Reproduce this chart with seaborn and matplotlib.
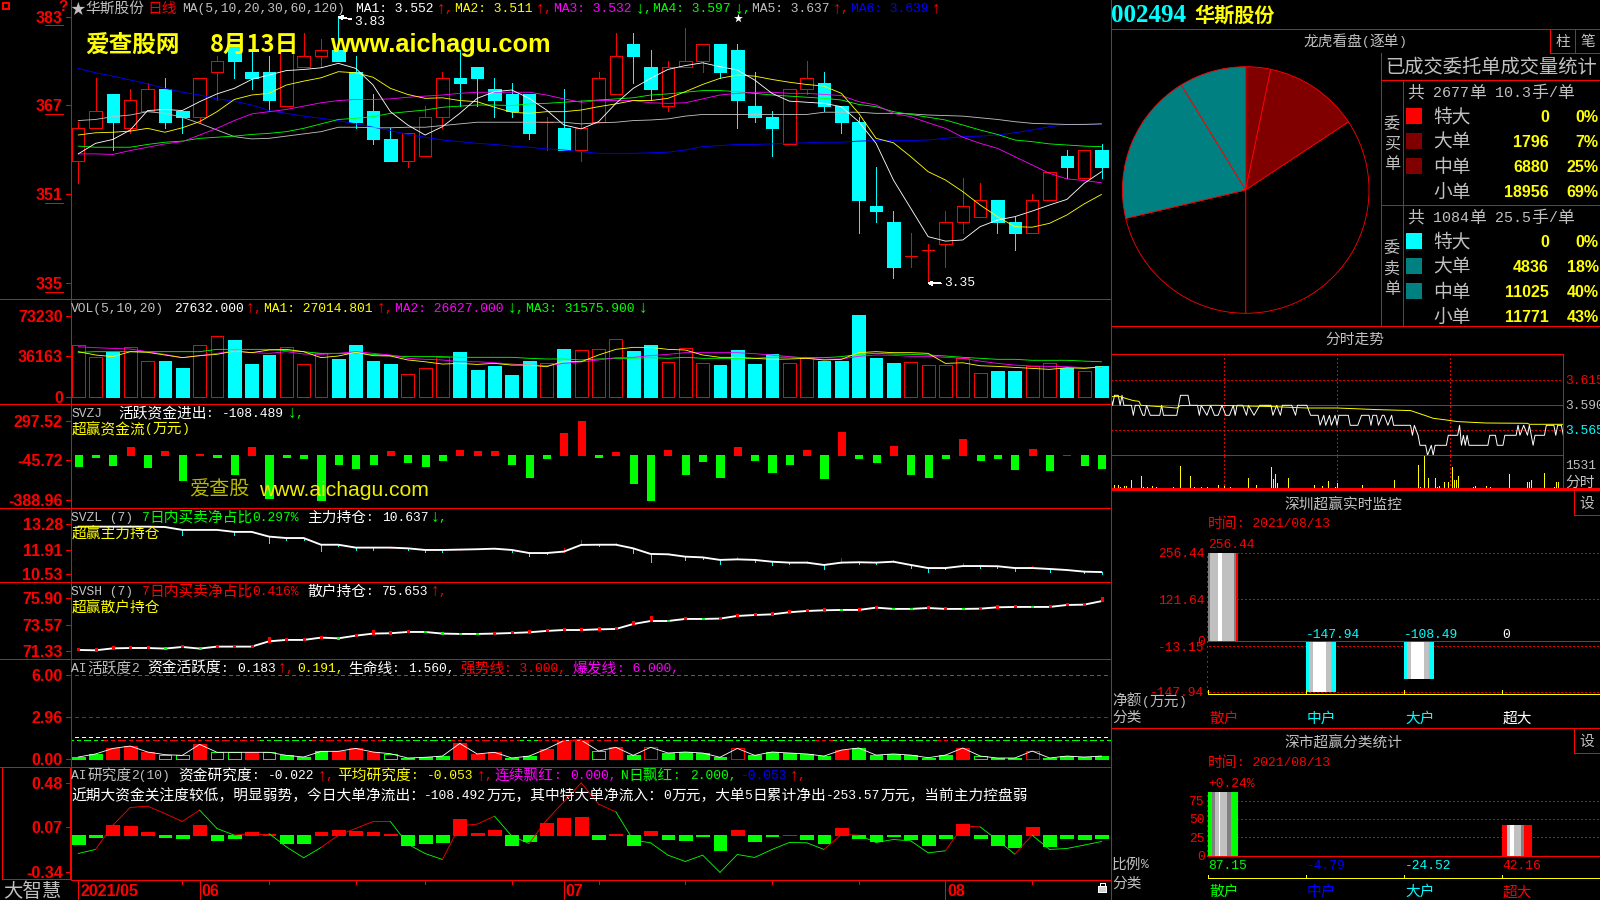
import numpy as np
import matplotlib
matplotlib.use("Agg")
import matplotlib.pyplot as plt
from matplotlib.patches import Rectangle
import seaborn as sns

# ---------- daily candles ----------
price_open = [357,363,369,363,366,370,366,365,373,378,373,373,367,374,376,377,373,366,361,357,358,365,372,374,370,369,369,364,
              363,359,364,369,378,374,367,374,375,378,377,367,365,360,370,371,367,364,349,346,340,341,342,346,347,350,346,344,350,358,354,359]
price_close = [363,366,364,368,370,364,365,372,375,375,372,368,377,376,377,375,364,361,357,362,365,372,371,372,368,366,362,364,
               359,363,372,376,376,370,374,375,378,373,368,365,363,370,372,367,364,350,348,338,340,341,346,349,350,346,344,350,355,356,359,356]
price_high = [364,372,369,370,371,372,366,372,376,378,377,376,377,380,379,383,376,369,363,362,367,373,377,374,372,371,369,365,
              370,368,373,380,380,377,375,381,378,378,378,373,366,370,375,373,367,365,356,348,344,342,348,354,353,350,347,351,355,359,359,360]
price_low = [353,363,359,362,366,363,362,364,368,372,370,366,367,374,374,375,363,360,357,356,358,363,367,367,365,365,361,359,
             359,357,364,369,371,368,366,374,373,372,363,364,358,360,369,366,362,344,346,336,338,335,338,344,347,344,341,344,350,354,354,354]

ma5 = [358.3,360.2,360.9,362.6,366.1,366.3,366.1,367.7,369.1,370.1,371.7,372.5,373.3,373.5,373.8,374.6,373.7,370.7,365.9,363.5,361.7,363.2,365.6,368.3,369.5,369.8,368.3,366.2,
       363.5,362.8,364.1,367.4,370.1,371.9,373.5,374.2,374.7,374.0,373.4,371.6,369.2,367.8,367.6,367.4,366.8,364.1,360.2,353.6,348.5,343.4,342.6,342.8,345.2,346.4,347.0,348.0,349.1,350.1,353.0,355.1]
ma10 = [361.7,362.1,362.2,362.4,362.9,362.2,363.0,364.1,365.9,368.1,368.9,369.2,370.7,371.4,372.0,373.1,372.9,372.1,370.1,369.0,368.3,368.4,367.9,367.7,366.7,365.8,365.6,365.9,
        365.9,366.2,366.8,367.3,367.9,367.9,368.3,369.5,370.8,371.9,372.5,372.3,371.7,371.2,370.8,370.5,369.2,365.6,361.1,360.3,357.8,355.1,353.6,351.5,349.1,347.0,345.2,345.1,345.8,347.3,349.3,351.0]
ma20 = [358.3,358.3,358.2,358.9,359.5,360.1,360.5,361.7,362.9,364.3,365.5,365.9,366.3,366.9,367.5,367.9,368.1,368.1,368.2,368.5,368.7,368.9,369.2,369.4,369.4,369.4,369.4,368.9,
        368.2,367.6,367.9,367.9,367.9,367.5,367.4,367.5,368.2,368.9,369.2,369.4,369.4,369.2,369.2,369.0,368.8,367.7,367.1,365.6,365.0,363.9,362.9,361.3,360.2,359.3,357.8,356.3,354.8,353.8,353.5,353.1]
ma30 = [359.7,359.5,359.5,359.5,360.0,360.4,360.6,361.1,361.3,361.5,361.8,362.0,362.3,362.9,363.7,364.5,364.7,365.0,365.6,365.9,366.2,366.7,366.9,367.1,367.1,367.0,367.3,367.4,
        367.6,367.8,368.0,368.2,368.4,368.9,369.1,369.4,369.7,369.7,369.5,369.2,368.9,368.7,368.5,368.3,368.0,367.2,366.8,365.9,365.4,364.9,364.4,363.5,362.6,361.8,360.8,360.5,360.1,359.9,359.7,359.6]
ma60 = [364.3,364.5,365.0,365.3,365.9,365.6,364.9,363.8,362.6,361.4,361.0,361.1,361.5,361.9,362.3,363.1,363.1,363.0,363.0,363.1,363.1,363.4,363.7,364.0,364.0,364.0,364.0,364.0,
        364.0,363.7,363.9,364.0,364.3,364.4,364.6,365.1,365.4,365.4,365.4,365.4,365.4,365.4,365.4,365.8,365.8,365.8,365.6,365.6,365.5,365.3,365.2,365.1,364.8,364.5,364.1,363.8,363.7,363.6,363.6,363.7]
ma120 = [373.7,372.9,372.3,371.6,370.9,370.1,369.4,368.9,368.2,367.8,367.1,366.1,365.6,365.1,364.7,364.3,363.7,363.1,362.5,361.8,361.3,360.8,360.5,360.2,360.0,359.7,359.5,359.2,
         359.0,358.7,358.4,358.4,358.4,358.5,358.6,359.0,359.6,359.8,360.0,360.0,360.1,360.2,360.3,360.4,360.4,360.6,360.7,360.7,360.7,360.8,361.1,361.4,361.5,361.7,362.1,362.6,363.2,363.6,363.7,363.7]

# ---------- volume ----------
volume = [46400,35600,40700,44600,31900,32200,25600,46400,54600,50900,29500,37700,44600,29500,39200,34100,46700,32200,29500,20200,25600,35600,40400,23800,27700,19600,32200,30100,
          43100,41900,42800,51800,41300,46700,31000,43700,30100,28600,42200,29500,38300,30100,34700,32200,32200,73800,35000,30400,31000,28300,28300,34700,21100,23200,23200,27400,30100,26200,22900,27632]
vol_ma5 = [40700,37700,36200,40700,40100,37700,35300,37100,38300,41300,39800,42200,42800,40700,35300,36800,40100,37100,36800,33200,31600,29500,30100,29200,30100,28600,28600,27100,
           32200,31600,37700,42800,44600,44600,42800,42200,37700,35600,35600,34700,33800,34100,34700,33200,33800,39800,40700,39800,39800,39200,30100,30700,28000,27400,26500,25600,24700,26200,25600,27014]
vol_ma10 = [45200,44300,43700,43100,40700,38300,35300,37100,39200,41300,39800,39200,40700,38600,38300,39200,40700,39200,37700,34700,33800,33200,31600,31600,30700,29500,28600,28000,
            30100,31600,33200,35300,35600,37100,38300,39800,39800,39800,39800,38900,37700,36200,34700,33800,34100,36500,37700,37400,36500,36500,35600,34700,32200,30100,28600,27700,27400,27100,26200,26627]
vol_ma20 = [40100,40700,40700,40700,40700,40700,40700,40700,42800,42800,42800,42800,41600,40700,39200,39200,39200,38300,37100,36200,36200,36200,35600,35600,35600,35600,34700,34100,
            34100,33200,34100,34700,34700,35300,34700,35600,34700,34700,34700,34700,35600,35900,35300,35300,36200,38300,39200,38600,38300,37700,36800,35600,34700,33800,33800,32900,32900,32900,32200,31575]

# ---------- capital flow ----------
flow = [-93,-15,-84,72,-101,38,-214,12,-15,-162,72,-368,-17,-23,-388,-75,-110,-75,38,-58,-93,-41,46,38,38,-75,-188,-23,
        194,297.5,-15,29,-240,-388,46,-162,-49,-188,72,-41,-145,-75,46,-197,203,-23,-58,81,-162,-188,-23,142,-41,-23,-119,55,-127,3,-84,-108.5]

# ---------- main force / retail holdings ----------
holding_main = [13.15,13.15,13.15,13.15,13.15,13.13,12.97,12.97,12.97,12.86,12.86,12.60,12.52,12.52,12.15,12.15,11.99,11.99,11.99,11.95,11.86,11.86,11.88,11.90,11.93,11.86,11.69,11.69,
                11.77,12.14,12.15,12.15,11.95,11.64,11.62,11.49,11.45,11.31,11.34,11.31,11.21,11.16,11.16,11.03,11.16,11.18,11.16,11.21,11.03,10.86,10.86,10.97,10.97,10.96,10.86,10.86,10.81,10.75,10.66,10.637]
main_down_idx = [2,6,9,11,12,13,14,15,16,17,19,20,21,25,26,27,30,32,33,35,36,37,39,40,41,43,45,46,48,49,50,52,53,54,56,58,59]
main_down_len = [.15,.28,.18,.37,.09,.09,.37,.09,.11,.11,.11,.11,.09,.09,.18,.055,.055,.26,.44,.18,.09,.22,.09,.18,.09,.22,.09,.09,.18,.22,.055,.09,.09,.15,.15,.09,.09]
main_up_idx = [3,7,10,18,22,24,28,29,31,34,38,42,44,47,51,55]
main_up_len = [.09,.055,.055,.055,.055,.055,.22,.26,.09,.09,.11,.09,.26,.09,.15,.09]

holding_retail = [71.42,71.39,71.56,71.59,71.59,71.54,71.68,71.54,71.71,71.71,71.71,72.17,72.29,72.29,72.49,72.43,72.66,72.84,72.87,72.98,72.98,72.84,72.81,72.81,72.84,72.89,72.95,73.07,
                  73.15,73.15,73.21,73.24,73.67,73.93,73.93,74.11,74.11,74.14,74.37,74.45,74.51,74.69,74.80,74.86,74.89,74.89,75.09,74.98,74.98,75.06,74.98,74.98,75.00,75.12,75.15,75.15,75.15,75.32,75.35,75.653]
retail_mark = "rrrrrgrgrrrrrrrgrrrrggggrrrr" + "rrrrrrgrgrrrrrrrgrrggrrgrrrgrrrr"
retail_big = {11: .4, 17: .3, 32: .3, 33: .42, 59: .35}

# ---------- AI activity ----------
activity = [.12,.34,.74,.91,.48,.29,.24,1.03,.46,.46,.46,.46,.24,.12,.53,.53,.74,.48,.36,.05,.10,.19,1.10,.34,.46,.05,.19,.70,
            1.30,1.34,.55,.82,.24,.82,.41,.48,.41,.10,.74,.24,.48,.41,.34,.19,.62,.77,.26,.34,.26,.07,.26,.77,.19,.05,.05,.55,.05,.19,.12,.19]
activity_style = "GGRRRggRggRgGGGRRRgGGGRRRGGR" + "RRgRGrGGGGrGGGGGRGGGGGGRgGGrGGGG"
life_line = 1.56
mid_line = 1.32
strong_line = 3.0
burst_line = 6.0
mid_colors = "gg" + "r"*9 + "ggg" + "rrrr" + "gggg" + "rrrr" + "g" + "r"*5 + "g"*11 + "r" + "g"*6 + "r" + "g"*9

# ---------- AI research ----------
research_bar = [-.079,-.018,.091,.082,.027,-.018,-.027,.091,-.046,-.027,.027,.006,-.073,-.073,.027,.046,.037,.027,.009,-.091,-.073,-.064,.146,.018,.046,-.091,-.055,.11,
                .155,.165,-.037,.009,-.091,.037,-.037,-.046,-.006,-.137,.046,-.055,-.006,.003,-.037,-.073,.064,-.027,-.055,-.006,-.037,-.091,-.027,.10,-.027,-.091,-.11,.073,-.10,-.027,-.037,-.027]
research_line = [-.168,-.131,.091,.253,.265,.198,.125,.229,.061,0,.015,.015,-.107,-.207,-.113,0,.061,.125,.125,-.082,-.168,-.223,.085,.101,.174,-.009,-.076,.137,
                 .305,.479,.284,.213,-.046,-.07,-.183,-.241,-.183,-.341,-.177,-.204,-.131,-.067,-.07,-.131,.006,0,-.067,-.04,-.052,-.162,-.143,.082,.076,-.046,-.174,0,-.131,-.122,-.091,-.058]
research_seg = "g"+"r"*6+"gg"+"rr"+"ggg"+"rrrr"+"ggg"+"rrr"+"gg"+"r"*5+"g"*12+"rr"+"g"*5+"rr"+"gg"+"r"+"g"*4

# ---------- order pie ----------
pie_values = [0,1796,6880,18956,11771,11025,4836,0]
pie_colors = ["#ff0000","#800000","#800000","#000000","#000000","#008080","#008080","#00ffff"]

# ---------- intraday ----------
intra_t = [0,1,2,4,5,6,7,8,11,12,13,15,17,18,19,21,26,27,28,35,36,37,41,42,46,47,48,51,53,55,57,59,61,63,65,66,67,70,72,73,76,79,85,86,88,90,91,96,98,99,104,106,110,111,113,114,116,117,119,120,121,126,127,131,133,137,138,139,141,142,144,145,147,149,150,159,160,161,163,164,167,168,170,171,172,178,179,184,185,186,187,188,189,190,200,201,204,205,208,209,215,216,217,219,221,222,224,225,230,231,235,236,237,239,240]
intra_p = [3.60,3.59,3.60,3.60,3.59,3.60,3.59,3.59,3.59,3.58,3.59,3.59,3.58,3.58,3.59,3.58,3.58,3.59,3.58,3.58,3.59,3.60,3.60,3.59,3.59,3.58,3.59,3.58,3.59,3.58,3.58,3.59,3.58,3.58,3.59,3.58,3.59,3.59,3.58,3.59,3.58,3.59,3.59,3.58,3.59,3.58,3.59,3.59,3.58,3.59,3.59,3.58,3.58,3.57,3.58,3.57,3.58,3.57,3.58,3.57,3.58,3.58,3.57,3.57,3.58,3.58,3.57,3.58,3.58,3.57,3.58,3.58,3.57,3.58,3.57,3.57,3.56,3.57,3.56,3.55,3.55,3.54,3.55,3.54,3.55,3.55,3.56,3.56,3.57,3.55,3.56,3.55,3.56,3.55,3.55,3.56,3.56,3.55,3.55,3.56,3.56,3.57,3.56,3.57,3.56,3.57,3.55,3.56,3.56,3.57,3.57,3.56,3.57,3.57,3.56]
avg_t = [0,5,9,12,15,16,26,35,37,56,86,104,120,141,159,166,171,178,184,199,221,222,240]
avg_p = [3.5987,3.5987,3.5963,3.5947,3.594,3.59,3.5887,3.5873,3.5897,3.59,3.5887,3.5873,3.5873,3.5857,3.5847,3.5803,3.577,3.5753,3.5737,3.5723,3.572,3.571,3.571]
tick_vol_t = [2,4,5,7,8,9,11,12,13,14,16,17,19,22,24,28,30,33,37,42,44,48,51,57,60,63,65,73,77,85,86,87,88,94,97,102,105,108,112,115,119,120,126,133,134,137,150,151,160,163,164,166,168,170,172,173,174,177,179,181,182,183,184,186,192,193,196,198,199,201,202,204,211,212,220,221,222,223,225,230,235,236,237,240]
tick_vol_v = [195,180,90,150,150,60,420,75,60,45,600,120,90,165,105,45,45,90,1050,600,90,90,90,195,150,90,45,510,195,1005,450,690,285,510,45,45,45,195,165,375,120,300,45,180,75,45,405,45,45,1095,120,1531,510,75,510,90,150,330,330,1005,420,420,600,45,90,150,75,75,150,90,45,75,690,45,45,330,330,420,45,735,120,330,330,1050]

# ---------- right bar panels ----------
categories = ["散户","中户","大户","超大"]
net_amount = [256.44,-147.94,-108.49,0]
ratio_values = [87.15,-4.79,-24.52,42.16]
ratio_labels = ["87.15","-4.79","-24.52","42.16"]

# ---------- table ----------
buy_rows = [("特大",0,"0%"),("大单",1796,"7%"),("中单",6880,"25%"),("小单",18956,"69%")]
sell_rows = [("特大",0,"0%"),("大单",4836,"18%"),("中单",11025,"40%"),("小单",11771,"43%")]

# =====================================================================
W, H = 1600, 900
RED, CYAN, GREEN, MAG, YEL, BLUE, GRAY, WHITE = "#ff0000","#00ffff","#00ff00","#ff00ff","#ffff00","#0000ff","#c0c0c0","#ffffff"
THIN = .5
SLIM = .62
sns.set_theme(style="dark", rc={"figure.facecolor":"black","axes.facecolor":"black","savefig.facecolor":"black",
                                "lines.antialiased":False,"patch.antialiased":False,"axes.grid":False})
plt.rcParams["font.family"] = ["Noto Sans CJK SC","DejaVu Sans"]
fig = plt.figure(figsize=(16,9), dpi=100)
n = len(price_open)
idx = np.arange(n)
X0, DX = 78.2, 17.345
LEFT, RIGHT = 70.7, 1110.7

def axes_px(x0,y0,x1,y1):
    ax = fig.add_axes([x0/W, 1-y1/H, (x1-x0)/W, (y1-y0)/H])
    ax.set_axis_off()
    return ax

def chart_axes(ptop,pbot,p1,v1,p2,v2):
    ax = axes_px(LEFT,ptop,RIGHT,pbot)
    k = (v2-v1)/(p2-p1)
    ylim = (v1+k*(pbot-p1), v1+k*(ptop-p1))
    return ax, ylim

def finish(ax, ylim):
    ax.set_xlim((LEFT-X0)/DX, (RIGHT-X0)/DX)
    ax.set_ylim(*ylim)
    ax.set_axis_off()

def line(ax,x,y,c,lw=SLIM):
    sns.lineplot(x=x,y=y,ax=ax,color=c,lw=lw,estimator=None,sort=False,legend=False,antialiased=True)

# ---- main candles
ax,yl = chart_axes(0,299.3,16.7,383,283.3,335)
o,c,h,l = map(np.array,(price_open,price_close,price_high,price_low))
up = c>=o
top = np.maximum(o,c); bot = np.minimum(o,c)
ax.vlines(idx[up],top[up],h[up],color=RED,lw=THIN,zorder=1)
ax.vlines(idx[up],l[up],bot[up],color=RED,lw=THIN,zorder=1)
ax.vlines(idx[~up],l[~up],h[~up],color=CYAN,lw=THIN,zorder=1)
ax.bar(idx[up],(top-bot)[up],bottom=bot[up],width=.72,facecolor="black",edgecolor=RED,lw=THIN,zorder=1)
ax.bar(idx[~up],(top-bot)[~up],bottom=bot[~up],width=.72,facecolor=CYAN,edgecolor=CYAN,lw=THIN,zorder=1)
for s,col in zip((ma120,ma60,ma30,ma20,ma10,ma5),(BLUE,GRAY,GREEN,MAG,YEL,WHITE)):
    line(ax,idx,s,col)
finish(ax,yl)

def styled_bars(ax,vals,width,faces,edges):
    sns.barplot(x=idx,y=vals,native_scale=True,width=width,color=RED,saturation=1,errorbar=None,ax=ax,legend=False)
    for p,f,e in zip(ax.patches,faces,edges):
        p.set_facecolor(f); p.set_edgecolor(e); p.set_linewidth(THIN)

# ---- volume
ax,yl = chart_axes(299.3,404,315.7,73230,396.7,0)
styled_bars(ax,volume,.74,["black" if u else CYAN for u in up],[RED if u else CYAN for u in up])
for s,col in zip((vol_ma20,vol_ma10,vol_ma5),(GREEN,MAG,YEL)):
    line(ax,idx,s,col)
finish(ax,yl)

# ---- flow
ax,yl = chart_axes(404,508,421,297.52,500,-388.96)
fc = [RED if v>0 else GREEN for v in flow]
styled_bars(ax,flow,.41,fc,fc)
finish(ax,yl)

# ---- SVZL
ax,yl = chart_axes(508,582.3,524.3,13.28,574,10.53)
hm = np.array(holding_main)
ax.vlines(main_down_idx,hm[main_down_idx]-np.array(main_down_len),hm[main_down_idx],color=CYAN,lw=THIN)
ax.vlines(main_up_idx,hm[main_up_idx],hm[main_up_idx]+np.array(main_up_len),color="#e00000",lw=THIN)
line(ax,idx,holding_main,WHITE,lw=1.35)
finish(ax,yl)

# ---- SVSH
ax,yl = chart_axes(582.3,659.3,598.3,75.90,651,71.33)
hr = np.array(holding_retail)
line(ax,idx,holding_retail,WHITE,lw=1.35)
for i in idx:
    sz = retail_big.get(int(i),.17 if retail_mark[i]=="r" else .1)
    ax.vlines(i,hr[i]-.03,hr[i]+sz,color=RED if retail_mark[i]=="r" else GREEN,lw=1.8,zorder=3)
finish(ax,yl)

# ---- AI activity
ax,yl = chart_axes(659.3,766.7,675.3,6.0,758.7,0)
faces = {"R":RED,"G":GREEN,"r":"black","g":"black"}
edges = {"R":RED,"G":GREEN,"r":RED,"g":GREEN}
styled_bars(ax,activity,.74,[faces[s] for s in activity_style],[edges[s] for s in activity_style])
line(ax,idx,activity,WHITE)
dash = (0,(5,5))
ax.hlines(burst_line,-1,60,color="#e000e0",lw=THIN,ls=dash)
ax.hlines(strong_line,-1,60,color="#e00000",lw=THIN,ls=dash)
ax.hlines(life_line,-1,60,color=WHITE,lw=THIN,ls=dash)
for i in idx:
    ax.hlines(mid_line,i-.5,i+.5,color=RED if mid_colors[i]=="r" else GREEN,lw=THIN,ls=dash)
finish(ax,yl)

# ---- AI research
ax,yl = chart_axes(766.7,880,782.7,.48,872.3,-.34)
fc = [RED if v>0 else GREEN for v in research_bar]
styled_bars(ax,research_bar,.74,fc,fc)
for i in range(n-1):
    ax.plot(idx[i:i+2],research_line[i:i+2],color=RED if research_seg[i]=="r" else GREEN,lw=SLIM,antialiased=True)
finish(ax,yl)

# ---- pie
R = 123.3; CX, CY = 1245.7, 190
ax = axes_px(CX-R,CY-R,CX+R,CY+R)
ax.pie(pie_values,colors=pie_colors,startangle=90,counterclock=False,radius=1,
       wedgeprops=dict(edgecolor=RED,linewidth=SLIM,clip_on=False,antialiased=True))
ax.set_xlim(-1,1); ax.set_ylim(-1,1); ax.set_axis_off()

# ---- intraday
PX0,PX1 = 1110.7,1563.3
DOT = (0,(2,4))
ax = axes_px(PX0,354.3,PX1,455.3)
ax.hlines(3.59,0,240,color=RED,lw=THIN)
ax.hlines([3.615,3.565],0,240,color="#e00000",lw=THIN,ls=DOT)
ax.vlines([60,120,180],3.54,3.641,color="#e00000",lw=THIN,ls=DOT)
line(ax,intra_t,intra_p,WHITE,lw=.7)
line(ax,avg_t,avg_p,YEL,lw=.7)
ax.set_xlim(0,240); ax.set_ylim(3.54,3.641); ax.set_axis_off()
ax = axes_px(PX0,455.3,PX1,489.3)
ax.vlines(tick_vol_t,0,tick_vol_v,color=YEL,lw=THIN)
ax.vlines([60,120,180],0,1531,color="#e00000",lw=THIN,ls=DOT,zorder=0)
ax.set_xlim(0,240); ax.set_ylim(0,1531); ax.set_axis_off()

# ---- right bars
def cat_axes(ptop,pbot,p1,v1,p2,v2):
    a = axes_px(1206.7,ptop,1600,pbot)
    k = (v2-v1)/(p2-p1)
    return a,(v1+k*(pbot-p1),v1+k*(ptop-p1))

def stripes(a,i,val,stops,cols):
    x0 = i-.15
    for s0,s1,col in zip(stops[:-1],stops[1:],cols):
        a.bar(x0+.3*s0,val,width=.3*(s1-s0),align="edge",color=col,lw=0,zorder=3)

def cat_finish(a,yl):
    a.set_xlim((1206.7-1223)/98,(1600-1223)/98)
    a.set_ylim(*yl); a.set_axis_off()

a,yl = cat_axes(540,700,552.7,256.44,641.3,0)
sns.barplot(x=categories,y=net_amount,order=categories,width=.3,color=GRAY,saturation=1,errorbar=None,ax=a,legend=False,linewidth=0)
a.hlines([256.44,121.64,-13.15,-147.94],-1,4,color="#e00000",lw=THIN,ls=DOT,zorder=1)
a.hlines(0,-1,4,color=RED,lw=THIN,zorder=4)
a.vlines(-.165,-147.94,256.44,color="#e00000",lw=.7,ls=DOT)
stripes(a,0,net_amount[0],[0,.07,.33,.46,.88,.94,1],["#808080",GRAY,WHITE,GRAY,"#808080",RED])
stops = [0,.1,.24,.67,.83,1]; cols = [CYAN,GRAY,WHITE,GRAY,CYAN]
stripes(a,1,net_amount[1],stops,cols)
stripes(a,2,net_amount[2],stops,cols)
cat_finish(a,yl)

a,yl = cat_axes(785,855.7,800.7,75,855.7,0)
sns.barplot(x=categories,y=ratio_values,order=categories,width=.3,color=GRAY,saturation=1,errorbar=None,ax=a,legend=False,linewidth=0)
a.hlines([75,50,25],-1,4,color="#e00000",lw=THIN,ls=DOT,zorder=1)
a.vlines(-.165,0,87.15,color="#e00000",lw=.7,ls=DOT)
stripes(a,0,ratio_values[0],[0,.12,.22,.37,.39,.62,.76,1],[GREEN,"#808080",GRAY,WHITE,GRAY,"#808080",GREEN])
stripes(a,3,ratio_values[3],[0,.17,.25,.41,.64,.73,1],[RED,GRAY,WHITE,GRAY,"#808080",RED])
cat_finish(a,yl)

# ---- overlay in pixel coordinates: rules and text
ov = fig.add_axes([0,0,1,1],zorder=10)
ov.set_xlim(0,W); ov.set_ylim(H,0); ov.set_axis_off(); ov.patch.set_alpha(0)

def hl(y,x0,x1,c=RED,lw=THIN): ov.plot([x0,x1],[y,y],color=c,lw=lw,solid_capstyle="butt")
def vl(x,y0,y1,c=RED,lw=THIN): ov.plot([x,x],[y0,y1],color=c,lw=lw,solid_capstyle="butt")

MONO = ["Liberation Mono","DejaVu Sans"]
CJK = ["Noto Sans CJK SC","DejaVu Sans"]
NUM = ["Liberation Sans","DejaVu Sans"]
EM_C, EM_A = 14.7, 7.83

def kind(ch):
    if ch in "↑↓": return 2
    return 1 if ord(ch)>127 else 0

def grid(x,y,s,color=GRAY,scale=1.0,ha="left",bold=False):
    runs = []
    for ch in s:
        if runs and kind(runs[-1][0])==kind(ch): runs[-1]+=ch
        else: runs.append(ch)
    adv = {0:EM_A,1:EM_C,2:EM_A}
    base = {0:4.4,1:5.2,2:5.6}
    size = {0:9.4,1:10.58,2:12.5}
    total = sum(len(r)*adv[kind(r[0])]*scale for r in runs)
    if ha=="center": x -= total/2
    if ha=="right": x -= total
    for r in runs:
        k = kind(r[0])
        tx = x-1.2 if k==2 else x
        ov.text(tx,y+base[k]*scale,r,color=color,fontfamily=CJK if k==1 else MONO,
                fontsize=size[k]*scale,va="baseline",ha="left",
                fontweight="bold" if bold else "normal")
        x += len(r)*adv[k]*scale

def num(x,y,s,color=RED,size=11.5,bold=False):
    ov.text(x,y,s,color=color,fontfamily=NUM,fontsize=size,ha="right",va="center_baseline",
            fontweight="bold" if bold else "normal")

for y in (299.3,404,508,582.3,659.3,766.7):
    hl(y,0,RIGHT)
hl(880,LEFT,RIGHT)
vl(LEFT,0,880); vl(RIGHT,0,900)
ov.add_patch(Rectangle((1.8,767.3),68,112,fill=False,ec=RED,lw=THIN))

# y tick labels
ticks = [(16.7,"383"),(105.3,"367"),(194.3,"351"),(283.3,"335"),
         (315.7,"73230"),(356.3,"36163"),(396.7,"0"),
         (421,"297.52"),(460,"-45.72"),(500,"-388.96"),
         (524.3,"13.28"),(549.7,"11.91"),(574,"10.53"),
         (598.3,"75.90"),(625.3,"73.57"),(651,"71.33"),
         (675.3,"6.00"),(717.3,"2.96"),(758.7,"0.00"),
         (782.7,"0.48"),(827.3,"0.07"),(872.3,"-0.34")]
for y,s in ticks:
    num(62.8,y,s,bold=True)
    hl(y,66,LEFT)
for y in (16.7,105.3,194.3,283.3):
    hl(y+8.7,45,62.8)

# date axis
for i,s in zip((0,7,28,50),("2021/05","06","07","08")):
    x = X0+DX*i
    vl(x,880,900)
    ov.text(x+2,890.5,s,color=RED,fontfamily=NUM,fontsize=11.5,fontweight="bold",ha="left",va="center_baseline")
for i in (6,11,16,20,25,30,35,40,45,55):
    vl(X0+DX*i,880,884)
grid(3,890,"大智慧",GRAY,scale=1.32)
ov.add_patch(Rectangle((1098,886),8,6,fc="#d0d0d0",ec="white",lw=.4))
ov.plot([1099.5,1099.5,1104.5,1104.5],[886,883,883,886],color="white",lw=THIN)

# header of price panel
ov.add_patch(Rectangle((2.5,2.5),6.5,6.5,fill=False,ec=RED,lw=1.4))
grid(58,6,"?",RED,scale=1.2,bold=True)
grid(70,8,"★",GRAY)
grid(85.7,8,"华斯股份",GRAY); grid(147,8,"日线",RED)
grid(182,8,"MA(5,10,20,30,60,120)",GRAY)
grid(356,8,"MA1: 3.552",WHITE); grid(437,8,"↑,",RED)
grid(455,8,"MA2: 3.511",YEL); grid(536,8,"↑,",RED)
grid(554,8,"MA3: 3.532",MAG); grid(636,8,"↓,",GREEN)
grid(653,8,"MA4: 3.597",GREEN); grid(735,8,"↓,",GREEN)
grid(752,8,"MA5: 3.637",GRAY); grid(833,8,"↑,",RED)
grid(851,8,"MA6: 3.639",BLUE); grid(932,8,"↑",RED)
ov.annotate("3.83",xy=(338.5,17),xytext=(354,22),color=WHITE,fontfamily=MONO,fontsize=9.4,va="center",
            arrowprops=dict(arrowstyle="->",color=WHITE,lw=THIN,shrinkA=0,shrinkB=0,mutation_scale=6))
ov.annotate("3.35",xy=(928,283.3),xytext=(944,283.3),color=WHITE,fontfamily=MONO,fontsize=9.4,va="center",
            arrowprops=dict(arrowstyle="->",color=WHITE,lw=THIN,shrinkA=0,shrinkB=0,mutation_scale=6))
ov.scatter([737.6],[18],marker="*",s=45,color=WHITE,lw=0)

# watermarks
ov.text(85.7,45,"爱查股网",color=YEL,fontfamily=CJK,fontsize=17,fontweight="bold",va="center")
ov.text(210,45,"8月13日",color=YEL,fontfamily=CJK,fontsize=17,fontweight="bold",va="center")
ov.text(330,45,"www.aichagu.com",color=YEL,fontfamily=NUM,fontsize=18.3,fontweight="bold",va="center")
ov.text(189,490,"爱查股",color="#b8b800",fontfamily=CJK,fontsize=14.5,va="center")
ov.text(259,490,"www.aichagu.com",color="#eeee00",fontfamily=NUM,fontsize=15.2,va="center")

# indicator headers
grid(71.4,307.7,"VOL(5,10,20)",GRAY)
grid(174,307.7,"27632.000",WHITE); grid(246,307.7,"↑,",RED)
grid(264,307.7,"MA1: 27014.801",YEL); grid(377,307.7,"↑,",RED)
grid(395,307.7,"MA2: 26627.000",MAG); grid(508,307.7,"↓,",GREEN)
grid(526,307.7,"MA3: 31575.900",GREEN); grid(639,307.7,"↓",GREEN)

grid(71.4,412.7,"SVZJ",GRAY); grid(118,412.7,"活跃资金进出:",WHITE)
grid(222,412.7,"-108.489",WHITE); grid(288,412.7,"↓,",GREEN)
grid(71.4,428,"超赢资金流(万元)",YEL)

grid(71.4,516.7,"SVZL (7)",GRAY); grid(142,516.7,"7日内买卖净占比0.297%",GREEN)
grid(307,516.7,"主力持仓:",WHITE); grid(382,516.7,"10.637",WHITE); grid(431,516.7,"↓,",GREEN)
grid(71.4,532,"超赢主力持仓",YEL)

grid(71.4,590.7,"SVSH (7)",GRAY); grid(142,590.7,"7日内买卖净占比0.416%",RED)
grid(307,590.7,"散户持仓:",WHITE); grid(382,590.7,"75.653",WHITE); grid(431,590.7,"↑,",RED)
grid(71.4,606,"超赢散户持仓",YEL)

grid(71.4,667.3,"AI活跃度2",GRAY); grid(147,667.3,"资金活跃度:",WHITE)
grid(237.5,667.3,"0.183",WHITE); grid(278,667.3,"↑,",RED)
grid(297,667.3,"0.191,",YEL); grid(348,667.3,"生命线:",WHITE); grid(408,667.3,"1.560,",WHITE)
grid(460,667.3,"强势线: 3.000,",RED); grid(572.6,667.3,"爆发线: 6.000,",MAG)

grid(71.4,775,"AI研究度2(10)",GRAY); grid(178.6,775,"资金研究度:",WHITE)
grid(268,775,"-0.022",WHITE); grid(318,775,"↑,",RED)
grid(337.5,775,"平均研究度:",YEL); grid(427,775,"-0.053",YEL); grid(477,775,"↑,",RED)
grid(495,775,"连续飘红:",MAG); grid(570.7,775,"0.000,",MAG)
grid(620.6,775,"N日飘红:",GREEN); grid(690,775,"2.000,",GREEN)
grid(741,775,"-0.053",BLUE); grid(790,775,"↑,",RED)
grid(71.4,795,"近期大资金关注度较低，明显弱势，今日大单净流出：-108.492万元，其中特大单净流入：0万元，大单5日累计净出-253.57万元，当前主力控盘弱",WHITE)

# title
ov.text(1111,15,"002494",color=CYAN,fontfamily=["Liberation Serif"],fontsize=18,fontweight="bold",va="center")
ov.text(1194,15,"华斯股份",color=YEL,fontfamily=CJK,fontsize=14.5,fontweight="bold",va="center")

# order panel frame
hl(28.7,RIGHT,W); hl(326,RIGHT,W)
grid(1355,41,"龙虎看盘(逐单)",GRAY,ha="center")
vl(1550,28.7,53.3); vl(1575,28.7,53.3); hl(53.3,1550,W)
grid(1562.5,41,"柱",GRAY,ha="center"); grid(1587.5,41,"笔",GRAY,ha="center")
vl(1381,53.3,326); vl(1403,80,326); hl(80,1381,W); hl(205.3,1381,W)
grid(1385,66,"已成交委托单成交量统计",GRAY,scale=1.31)
grid(1407,91.7,"共 2677单 10.3手/单",GRAY,scale=1.15)
grid(1407,216.7,"共 1084单 25.5手/单",GRAY,scale=1.15)
for y,ch in zip((124,143,163),"委买单"): grid(1392,y,ch,GRAY,scale=1.1,ha="center")
for y,ch in zip((248,268,288),"委卖单"): grid(1392,y,ch,GRAY,scale=1.1,ha="center")
swatch_buy = (RED,"#800000","#800000",None)
swatch_sell = (CYAN,"#008080","#008080",None)
for rows,ys,sw in ((buy_rows,(116,141,166,191),swatch_buy),(sell_rows,(241,266,291,316),swatch_sell)):
    for (name,val,pct),y,col in zip(rows,ys,sw):
        if col: ov.add_patch(Rectangle((1406,y-8),16,16,fc=col,ec="none"))
        grid(1433,y,name,GRAY,scale=1.28)
        num(1549,y,str(val),YEL,size=11.5,bold=True)
        num(1598.5,y,pct,YEL,size=11.5,bold=True)

# intraday frame
grid(1355,339,"分时走势",GRAY,ha="center")
ov.add_patch(Rectangle((PX0,354.3),PX1-PX0,135,fill=False,ec=RED,lw=THIN))
hl(455.3,PX0,PX1); hl(489.3,RIGHT,W,lw=1.0)
grid(1565,379.5,"3.615",RED); grid(1565,404.7,"3.590",GRAY); grid(1565,429.3,"3.565",CYAN)
grid(1565,465,"1531",GRAY); grid(1565,481.7,"分时",GRAY)

# net amount panel labels
grid(1343,503,"深圳超赢实时监控",GRAY,ha="center")
vl(1574,490,515); hl(515,1574,W); grid(1587,503,"设",GRAY,ha="center")
grid(1208,523,"时间: 2021/08/13",RED)
grid(1208,544,"256.44",RED)
for y,s in ((552.7,"256.44"),(600,"121.64"),(646.7,"-13.15"),(692,"-147.94"),(640.7,"0")):
    grid(1205,y,s,RED,ha="right")
for x,s,col in ((1305.7,"-147.94",CYAN),(1403.7,"-108.49",CYAN),(1502.3,"0",WHITE)):
    grid(x,633.3,s,col)
hl(694,1208.3,W,YEL)
for i in range(4): vl(1208.3+98*i,690,694,YEL)
for i,(s,col) in enumerate(zip(categories,(RED,CYAN,CYAN,WHITE))):
    grid(1209+98*i,717.3,s,col)
grid(1112,701,"净额(万元)",GRAY); grid(1112,717,"分类",GRAY)

# ratio panel labels
hl(728.3,RIGHT,W)
grid(1343,741.7,"深市超赢分类统计",GRAY,ha="center")
vl(1574,728.3,753.3); hl(753.3,1574,W); grid(1587,741,"设",GRAY,ha="center")
grid(1208,761.7,"时间: 2021/08/13",RED)
grid(1208,782.3,"+0.24%",RED)
for y,s in ((800.7,"75"),(819,"50"),(837.7,"25"),(856,"0")):
    grid(1205,y,s,RED,ha="right")
hl(855.7,1206.7,W)
for i,(s,col) in enumerate(zip(ratio_labels,(GREEN,BLUE,CYAN,RED))):
    grid(1208.5+98*i,865,s,col)
hl(878.3,1208.3,W,YEL)
for i in range(4): vl(1208.3+98*i,874.5,878.3,YEL)
for i,(s,col) in enumerate(zip(categories,(GREEN,BLUE,CYAN,RED))):
    grid(1209+98*i,891,s,col)
grid(1112,864,"比例%",GRAY); grid(1112,882.7,"分类",GRAY)

fig.savefig("out.png",dpi=100,facecolor="black")
